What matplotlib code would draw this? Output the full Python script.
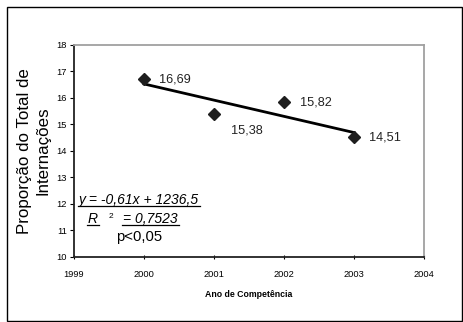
import numpy as np
import matplotlib
matplotlib.use("Agg")
import matplotlib.pyplot as plt
from matplotlib.patches import Rectangle
from matplotlib.lines import Line2D

plt.rcParams['font.family'] = ['Liberation Sans', 'DejaVu Sans']

# data
anos = [2000, 2001, 2002, 2003]
proporcao = [16.69, 15.38, 15.82, 14.51]
rotulos = ['16,69', '15,38', '15,82', '14,51']
# label offsets in pixels (dx, dy)
offsets = [(15, 0), (17, -16), (16, 0), (15, 0)]

W, H = 463, 322
fig = plt.figure(figsize=(W / 100, H / 100), dpi=100)


def fx(px):
    return px / W


def fy(py):
    return 1 - py / H


ax = fig.add_axes([fx(74), fy(257), fx(424) - fx(74), fy(44.5) - fy(257)])

# trend line from linear fit
coef = np.polyfit(anos, proporcao, 1)
xs = np.array([anos[0], anos[-1]])
ax.plot(xs, np.polyval(coef, xs), color='black', lw=2.0, zorder=2)
ax.plot(anos, proporcao, linestyle='none', marker='D', markersize=6.5,
        color='#1e1e1e', zorder=3)

for x, y, t, (dx, dy) in zip(anos, proporcao, rotulos, offsets):
    ax.annotate(t, (x, y), xytext=(dx * 0.72, dy * 0.72), textcoords='offset points',
                fontsize=9.2, color='#222222', va='center', ha='left')

ax.set_xlim(1999, 2004)
ax.set_ylim(10, 18)
ax.set_xticks(range(1999, 2005))
ax.set_yticks(range(10, 19))
ax.tick_params(axis='both', labelsize=6.7, colors='black', length=3, width=0.8)
ax.tick_params(axis='x', direction='inout', pad=8)
ax.tick_params(axis='y', direction='out', pad=2)

for s in ['left', 'bottom']:
    ax.spines[s].set_color('#222222')
    ax.spines[s].set_linewidth(1.3)
for s in ['top', 'right']:
    ax.spines[s].set_color('#a0a0a0')
    ax.spines[s].set_linewidth(1.3)

ax.set_xlabel('Ano de Competência', fontsize=6.3, fontweight='bold', labelpad=8)
ax.set_ylabel('Proporção do Total de\nInternações', fontsize=12.2, labelpad=4,
              linespacing=1.3)

# equation text
t1 = fig.text(fx(79), fy(200), 'y = -0,61x + 1236,5', fontsize=10, style='italic',
              va='center', ha='left')
t2 = fig.text(fx(88), fy(219), 'R', fontsize=10, style='italic', va='center', ha='left')
fig.text(fx(108.5), fy(216), '2', fontsize=6, va='center', ha='left')
t3 = fig.text(fx(123), fy(219), '= 0,7523', fontsize=10, style='italic',
              va='center', ha='left')
fig.text(fx(116), fy(237), 'p<0,05', fontsize=10.7, va='center', ha='left')

fig.canvas.draw()
r = fig.canvas.get_renderer()
for t, uy in [(t1, 206), (t2, 225), (t3, 225)]:
    bb = t.get_window_extent(r)
    fig.add_artist(Line2D([fx(bb.x0 - 1), fx(bb.x1 + 1)], [fy(uy), fy(uy)],
                          transform=fig.transFigure, color='black', lw=0.9))

# outer frame
fig.add_artist(Rectangle((fx(7), fy(321)), fx(462) - fx(7), fy(7) - fy(321),
                         transform=fig.transFigure, fill=False,
                         edgecolor='black', lw=1.0))

fig.savefig('out.png', dpi=100)
